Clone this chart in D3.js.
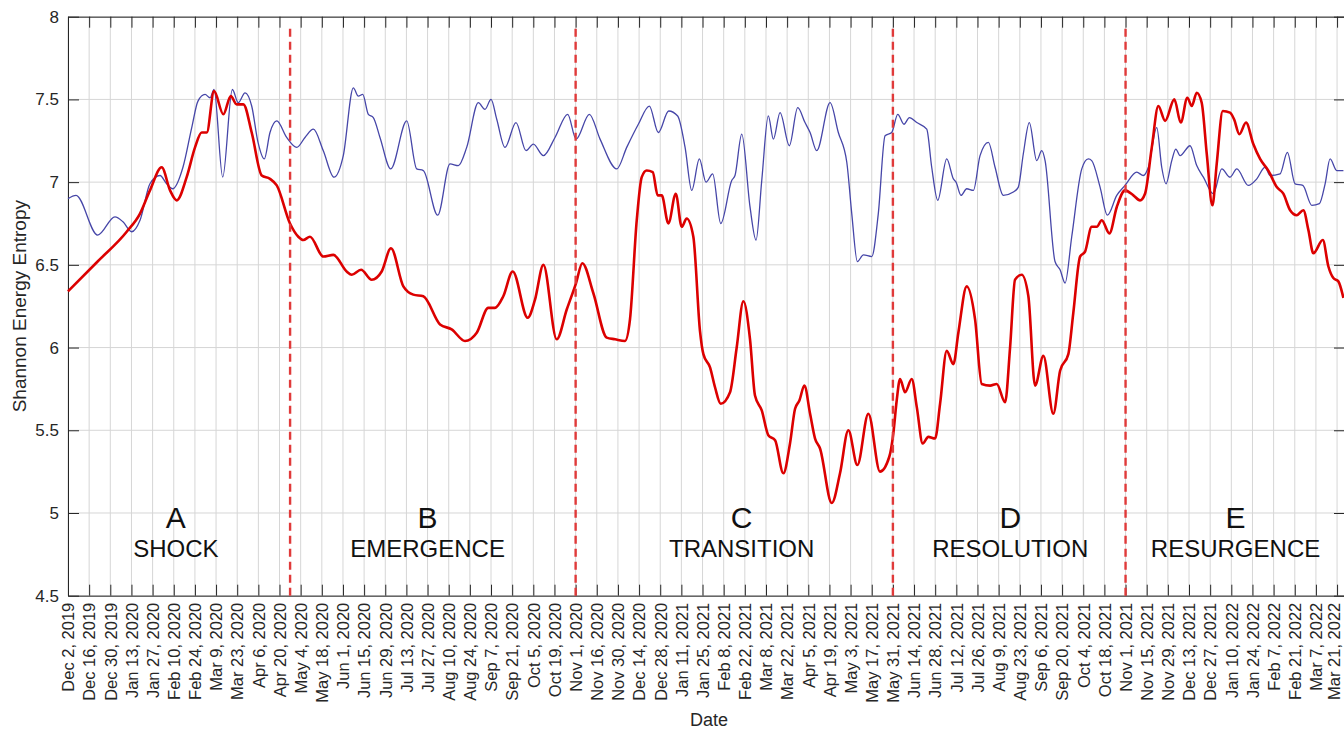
<!DOCTYPE html>
<html>
<head>
<meta charset="utf-8">
<script src="https://cdn.jsdelivr.net/npm/d3@7"></script>
<style>
  body { margin: 0; background: #fff; overflow: hidden; }
  svg { display: block; font-family: "Liberation Sans", Arial, sans-serif; }
</style>
</head>
<body>
<div id="vis"></div>
<script>
//#region data

// one label every 2 weeks, starting Dec 2, 2019 (week 0)
const tickLabels = [
  "Dec 2, 2019", "Dec 16, 2019", "Dec 30, 2019", "Jan 13, 2020", "Jan 27, 2020",
  "Feb 10, 2020", "Feb 24, 2020", "Mar 9, 2020", "Mar 23, 2020", "Apr 6, 2020",
  "Apr 20, 2020", "May 4, 2020", "May 18, 2020", "Jun 1, 2020", "Jun 15, 2020",
  "Jun 29, 2020", "Jul 13, 2020", "Jul 27, 2020", "Aug 10, 2020", "Aug 24, 2020",
  "Sep 7, 2020", "Sep 21, 2020", "Oct 5, 2020", "Oct 19, 2020", "Nov 1, 2020",
  "Nov 16, 2020", "Nov 30, 2020", "Dec 14, 2020", "Dec 28, 2020", "Jan 11, 2021",
  "Jan 25, 2021", "Feb 8, 2021", "Feb 22, 2021", "Mar 8, 2021", "Mar 22, 2021",
  "Apr 5, 2021", "Apr 19, 2021", "May 3, 2021", "May 17, 2021", "May 31, 2021",
  "Jun 14, 2021", "Jun 28, 2021", "Jul 12, 2021", "Jul 26, 2021", "Aug 9, 2021",
  "Aug 23, 2021", "Sep 6, 2021", "Sep 20, 2021", "Oct 4, 2021", "Oct 18, 2021",
  "Nov 1, 2021", "Nov 15, 2021", "Nov 29, 2021", "Dec 13, 2021", "Dec 27, 2021",
  "Jan 10, 2022", "Jan 24, 2022", "Feb 7, 2022", "Feb 21, 2022", "Mar 7, 2022",
  "Mar 21, 2022"
];
const weeksPerLabel = 2;
const weekMax = 120.75;

const yTicks = [4.5, 5, 5.5, 6, 6.5, 7, 7.5, 8];

// [week, entropy]
const blueSeries = [
  [0, 6.90], [0.76, 6.92], [2.81, 6.68], [4.44, 6.79], [5.2, 6.76], [6.02, 6.70],
  [6.81, 6.77], [7.75, 6.99], [8.7, 7.04], [9.33, 6.99], [9.9, 6.96], [10.87, 7.09],
  [11.7, 7.33], [12.29, 7.49], [12.96, 7.53], [13.43, 7.51], [13.81, 7.56], [14.63, 7.03],
  [15.54, 7.56], [16.1, 7.48], [16.74, 7.54], [17.37, 7.46], [17.97, 7.24], [18.56, 7.14],
  [19.1, 7.30], [19.74, 7.37], [20.68, 7.27], [21.63, 7.21], [22.41, 7.27], [23.2, 7.32],
  [24.14, 7.19], [25.15, 7.03], [26.03, 7.16], [26.98, 7.57], [27.45, 7.52], [27.87, 7.53],
  [28.4, 7.41], [28.87, 7.39], [29.5, 7.27], [30.52, 7.08], [32.03, 7.37], [32.97, 7.08],
  [33.6, 7.07], [34.96, 6.80], [36.12, 7.11], [36.91, 7.10], [37.7, 7.21], [38.8, 7.48],
  [39.43, 7.44], [40.0, 7.50], [40.54, 7.38], [41.32, 7.21], [42.36, 7.36], [43.31, 7.19],
  [44.0, 7.23], [44.95, 7.16], [46.05, 7.27], [47.25, 7.41], [48.04, 7.26], [49.3, 7.41],
  [50.31, 7.26], [51.89, 7.08], [52.83, 7.21], [53.93, 7.35], [54.97, 7.46], [55.82, 7.30],
  [56.8, 7.43], [57.65, 7.40], [58.35, 7.21], [58.98, 6.95], [59.7, 7.14], [60.33, 7.00],
  [60.96, 7.05], [61.72, 6.75], [62.76, 7.01], [63.07, 7.04], [63.71, 7.29], [64.49, 6.85],
  [65.06, 6.65], [65.6, 7.01], [66.22, 7.40], [66.7, 7.26], [67.33, 7.42], [68.21, 7.22],
  [69.0, 7.45], [69.69, 7.36], [70.17, 7.30], [70.8, 7.19], [72.06, 7.48], [72.84, 7.30],
  [73.64, 7.12], [74.11, 6.81], [74.64, 6.52], [75.21, 6.56], [76.0, 6.55], [76.62, 6.81],
  [77.26, 7.28], [77.89, 7.30], [78.46, 7.41], [79.05, 7.35], [79.56, 7.39], [80.26, 7.36],
  [81.2, 7.32], [81.67, 7.09], [82.24, 6.89], [83.09, 7.14], [83.72, 7.02], [83.97, 7.00],
  [84.44, 6.92], [84.98, 6.96], [85.61, 6.95], [86.24, 7.16], [87.03, 7.24], [87.66, 7.09],
  [88.44, 6.92], [89.39, 6.94], [89.86, 6.97], [90.33, 7.17], [90.9, 7.36], [91.6, 7.13],
  [92.08, 7.19], [92.39, 7.13], [93.33, 6.52], [93.81, 6.47], [94.28, 6.39], [94.91, 6.67],
  [95.86, 7.08], [96.48, 7.14], [96.8, 7.13], [97.59, 6.97], [98.28, 6.80], [99.17, 6.92],
  [99.95, 6.98], [101.06, 7.06], [101.68, 7.04], [102.16, 7.09], [102.95, 7.33], [103.42, 7.09],
  [103.83, 6.99], [104.37, 7.13], [104.75, 7.20], [105.15, 7.16], [106.1, 7.22], [106.73, 7.10],
  [107.36, 7.03], [108.3, 6.93], [109.1, 7.08], [109.88, 7.03], [110.52, 7.08], [111.61, 6.98],
  [112.41, 7.02], [113.19, 7.09], [113.66, 7.04], [114.61, 7.05], [115.3, 7.18], [116.03, 6.99],
  [116.76, 6.98], [117.61, 6.86], [118.33, 6.87], [118.87, 6.99], [119.34, 7.14], [119.97, 7.07],
  [120.6, 7.07]
];

const redSeries = [
  [0, 6.34], [2.8, 6.52], [5.55, 6.70], [6.81, 6.81], [7.75, 6.95], [8.86, 7.09], [9.65, 6.95],
  [10.28, 6.89], [11.22, 7.03], [12.01, 7.21], [12.64, 7.30], [13.12, 7.30], [13.81, 7.55],
  [14.69, 7.41], [15.39, 7.52], [15.95, 7.47], [16.58, 7.47], [17.37, 7.30], [18.32, 7.04],
  [19.1, 7.02], [19.74, 6.98], [20.99, 6.75], [21.78, 6.67], [22.25, 6.65], [22.88, 6.67],
  [24.14, 6.55], [25.09, 6.56], [26.35, 6.46], [26.83, 6.44], [27.71, 6.47], [28.72, 6.41],
  [29.66, 6.46], [30.54, 6.60], [31.71, 6.37], [32.65, 6.32], [33.6, 6.31], [35.18, 6.14],
  [36.28, 6.11], [37.54, 6.04], [38.65, 6.09], [39.74, 6.24], [40.38, 6.24], [41.16, 6.31],
  [42.05, 6.46], [43.47, 6.18], [44.16, 6.29], [44.95, 6.50], [46.21, 6.05], [47.16, 6.23],
  [48.04, 6.39], [48.63, 6.51], [49.67, 6.33], [50.94, 6.06], [51.73, 6.05], [52.67, 6.04],
  [53.14, 6.17], [53.78, 6.77], [54.25, 7.03], [54.72, 7.07], [55.29, 7.06], [55.76, 6.92],
  [56.14, 6.92], [56.77, 6.75], [57.47, 6.93], [58.03, 6.73], [58.5, 6.78], [59.13, 6.67],
  [59.76, 6.10], [60.08, 5.96], [60.71, 5.88], [61.18, 5.76], [61.72, 5.66], [62.6, 5.73],
  [63.23, 6.00], [63.86, 6.28], [64.49, 6.05], [64.96, 5.71], [65.6, 5.62], [66.22, 5.47],
  [66.86, 5.44], [67.64, 5.24], [68.27, 5.42], [68.75, 5.63], [69.16, 5.68], [69.63, 5.77],
  [70.17, 5.60], [70.64, 5.45], [71.11, 5.39], [72.22, 5.06], [73.0, 5.24], [73.79, 5.50],
  [74.64, 5.29], [75.68, 5.60], [76.78, 5.25], [77.66, 5.34], [78.04, 5.48], [78.36, 5.68],
  [78.68, 5.81], [79.15, 5.73], [79.78, 5.81], [80.26, 5.64], [80.82, 5.42], [81.35, 5.46],
  [81.99, 5.45], [82.46, 5.66], [83.09, 5.98], [83.72, 5.90], [84.19, 6.09], [84.98, 6.37],
  [85.77, 6.17], [86.4, 5.78], [87.19, 5.77], [87.82, 5.78], [88.61, 5.67], [89.08, 6.00],
  [89.55, 6.41], [90.18, 6.44], [90.81, 6.31], [91.44, 5.77], [92.23, 5.95], [93.17, 5.60],
  [93.81, 5.86], [94.59, 5.96], [95.06, 6.21], [95.7, 6.55], [96.17, 6.58], [96.8, 6.73],
  [97.28, 6.73], [97.75, 6.77], [98.47, 6.69], [99.17, 6.85], [99.95, 6.95], [100.74, 6.92],
  [101.37, 6.89], [101.84, 6.93], [102.48, 7.21], [103.1, 7.46], [103.74, 7.37], [104.61, 7.50],
  [105.22, 7.36], [105.84, 7.51], [106.26, 7.46], [106.73, 7.54], [107.2, 7.48], [107.68, 7.17],
  [108.21, 6.86], [108.62, 7.11], [109.19, 7.43], [109.88, 7.42], [110.26, 7.38], [110.76, 7.29],
  [111.39, 7.36], [112.08, 7.23], [112.72, 7.14], [113.5, 7.07], [114.3, 6.97], [114.92, 6.93],
  [115.56, 6.83], [116.19, 6.80], [116.81, 6.83], [117.29, 6.71], [117.76, 6.57], [118.65, 6.65],
  [119.18, 6.49], [119.65, 6.42], [120.12, 6.40], [120.6, 6.30]
];

// phase boundaries (week) and labels
const phaseBreaks = [21, 48, 78, 100];
const phaseLetters = ["A", "B", "C", "D", "E"];
const phaseNames = ["SHOCK", "EMERGENCE", "TRANSITION", "RESOLUTION", "RESURGENCE"];
const phaseCenters = [10.2, 34, 63.7, 89.1, 110.4];

//#endregion


//#region scales

const width = 1344;
const height = 731;
const plot = { left: 68, right: 1345, top: 16.7, bottom: 595.7 };
const tickLen = 11;

const x = d3.scaleLinear().domain([0, weekMax]).range([plot.left, plot.right]);
const y = d3.scaleLinear().domain([4.5, 8]).range([plot.bottom, plot.top]);

const tickWeeks = tickLabels.map((d, i) => i * weeksPerLabel);
const labelOf = new Map(tickWeeks.map((w, i) => [w, tickLabels[i]]));
const lastWeek = tickWeeks[tickWeeks.length - 1];

//#endregion


//#region render

const svg = d3.select("#vis")
  .append("svg")
    .attr("width", width)
    .attr("height", height);

// grid
svg.append("g")
  .selectAll("line")
  .data(tickWeeks)
  .join("line")
    .attr("x1", d => x(d))
    .attr("x2", d => x(d))
    .attr("y1", plot.top)
    .attr("y2", plot.bottom)
    .attr("stroke", "#d6d6d6")
    .attr("stroke-width", 1);

svg.append("g")
  .selectAll("line")
  .data(yTicks)
  .join("line")
    .attr("x1", plot.left)
    .attr("x2", plot.right)
    .attr("y1", d => y(d))
    .attr("y2", d => y(d))
    .attr("stroke", "#d6d6d6")
    .attr("stroke-width", 1);

// axes (ticks point inward like the box of the original)
const styleAxis = g => {
  g.selectAll(".domain").attr("stroke", "#262626");
  g.selectAll(".tick line").attr("stroke", "#262626");
  g.selectAll("text").attr("fill", "#262626");
};

svg.append("g")
  .attr("transform", `translate(0,${plot.bottom})`)
  .call(d3.axisBottom(x).tickValues(tickWeeks).tickFormat(d => labelOf.get(d))
    .tickSizeInner(-tickLen).tickSizeOuter(0))
  .call(g => g.selectAll("text")
    .attr("transform", "rotate(-90)")
    .attr("text-anchor", "end")
    .attr("x", -7)
    .attr("y", d => d === lastWeek ? -3 : 0) // keep the last label inside the page
    .attr("dy", "0.35em")
    .style("font-size", "16.5px"))
  .call(styleAxis);

svg.append("g")
  .attr("transform", `translate(0,${plot.top})`)
  .call(d3.axisTop(x).tickValues(tickWeeks).tickFormat("")
    .tickSizeInner(-tickLen).tickSizeOuter(0))
  .call(styleAxis);

svg.append("g")
  .attr("transform", `translate(${plot.left},0)`)
  .call(d3.axisLeft(y).tickValues(yTicks).tickFormat(d3.format(""))
    .tickSizeInner(-tickLen).tickSizeOuter(0).tickPadding(9))
  .call(g => g.selectAll("text").style("font-size", "17px"))
  .call(styleAxis);

svg.append("g")
  .attr("transform", `translate(${plot.right},0)`)
  .call(d3.axisRight(y).tickValues(yTicks).tickFormat("")
    .tickSizeInner(-tickLen).tickSizeOuter(0))
  .call(styleAxis);

// series
const line = d3.line()
  .x(d => x(d[0]))
  .y(d => y(d[1]))
  .curve(d3.curveMonotoneX);

svg.append("path")
  .datum(blueSeries)
  .attr("fill", "none")
  .attr("stroke", "#4646a8")
  .attr("stroke-width", 1.3)
  .attr("d", line);

svg.append("path")
  .datum(redSeries)
  .attr("fill", "none")
  .attr("stroke", "#dc0000")
  .attr("stroke-width", 2.6)
  .attr("stroke-linejoin", "round")
  .attr("d", line);

// phase boundaries
svg.append("g")
  .selectAll("line")
  .data(phaseBreaks)
  .join("line")
    .attr("x1", d => x(d))
    .attr("x2", d => x(d))
    .attr("y1", plot.bottom)
    .attr("y2", plot.top + 8)
    .attr("stroke", "#e03a3a")
    .attr("stroke-width", 2.4)
    .attr("stroke-dasharray", "8,5");

// phase labels
svg.append("g")
  .selectAll("text")
  .data(phaseLetters)
  .join("text")
    .attr("x", (d, i) => x(phaseCenters[i]))
    .attr("y", plot.bottom - 68)
    .attr("text-anchor", "middle")
    .style("font-size", "30px")
    .attr("fill", "#111")
    .text(d => d);

svg.append("g")
  .selectAll("text")
  .data(phaseNames)
  .join("text")
    .attr("x", (d, i) => x(phaseCenters[i]))
    .attr("y", plot.bottom - 39)
    .attr("text-anchor", "middle")
    .style("font-size", "24px")
    .attr("fill", "#111")
    .text(d => d);

// axis titles
svg.append("text")
  .attr("x", 709)
  .attr("y", 726)
  .attr("text-anchor", "middle")
  .style("font-size", "18px")
  .attr("fill", "#262626")
  .text("Date");

svg.append("text")
  .attr("transform", `translate(26,${(plot.top + plot.bottom) / 2}) rotate(-90)`)
  .attr("text-anchor", "middle")
  .style("font-size", "19px")
  .attr("fill", "#262626")
  .text("Shannon Energy Entropy");

//#endregion
</script>
</body>
</html>
